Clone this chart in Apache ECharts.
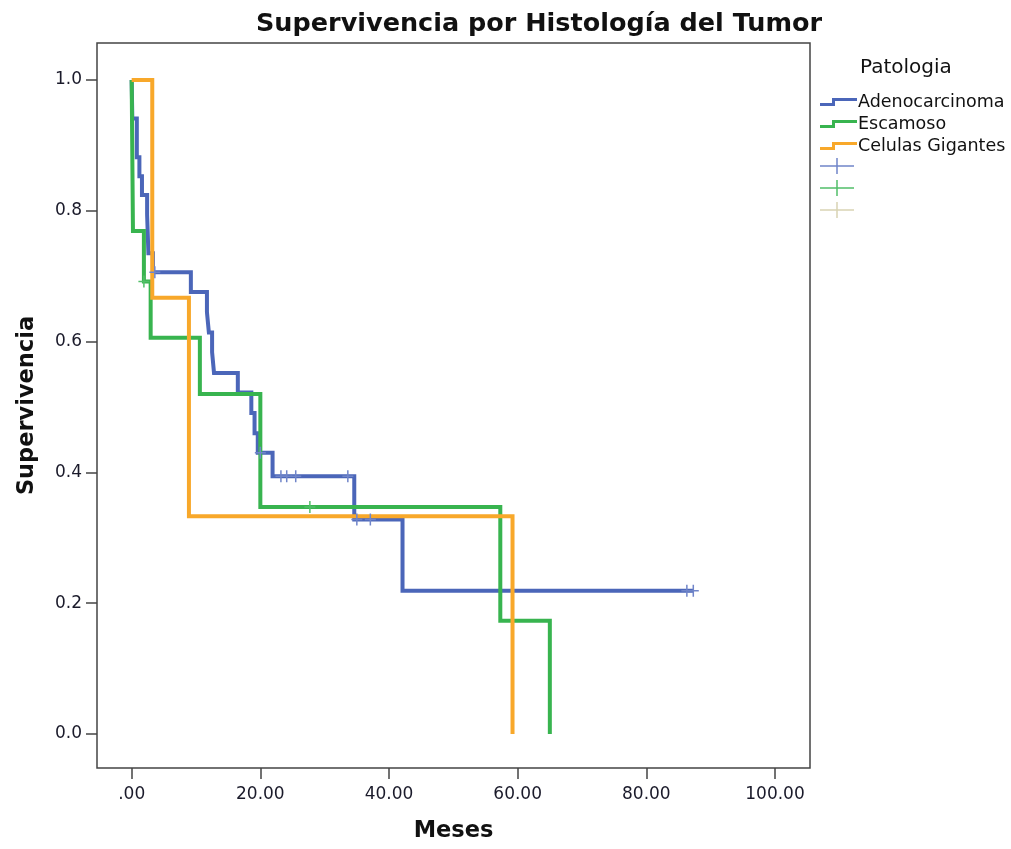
<!DOCTYPE html>
<html>
<head>
<meta charset="utf-8">
<script src="https://cdn.jsdelivr.net/npm/echarts@6/dist/echarts.min.js"></script>
<style>
  html, body { margin: 0; padding: 0; background: #ffffff; }
  #chart { width: 1011px; height: 849px; }
</style>
</head>
<body>
<div id="chart"></div>
<script>
// ---- Data ----
const seriesNames = ['Adenocarcinoma', 'Escamoso', 'Celulas Gigantes'];

const adenoTime = [0, 0.1, 0.8, 1.2, 1.6, 2.4, 2.6, 3.3, 9.2, 11.7, 12.0, 12.5, 12.8, 16.5, 18.6, 19.1, 19.6, 21.9, 34.6, 42.1, 87.3];
const adenoSurv = [1.0, 0.941, 0.882, 0.853, 0.824, 0.794, 0.735, 0.706, 0.676, 0.645, 0.614, 0.584, 0.552, 0.522, 0.491, 0.460, 0.430, 0.394, 0.328, 0.219, 0.219];
const adenoCensTime = [3.6, 20.0, 23.2, 24.1, 25.5, 33.6, 35.0, 37.1, 86.3, 87.3];
const adenoCensSurv = [0.706, 0.430, 0.394, 0.394, 0.394, 0.394, 0.328, 0.328, 0.219, 0.219];

const escamTime = [0, 0.2, 1.9, 2.95, 10.6, 20.0, 57.3, 65.0];
const escamSurv = [1.0, 0.769, 0.692, 0.606, 0.520, 0.347, 0.173, 0.0];
const escamCensTime = [1.9, 27.7];
const escamCensSurv = [0.692, 0.347];

const celTime = [0, 3.2, 8.9, 59.2];
const celSurv = [1.0, 0.667, 0.333, 0.0];
const celCensTime = [];
const celCensSurv = [];

const xTickValues = [0, 20, 40, 60, 80, 100];
const xTickLabels = ['.00', '20.00', '40.00', '60.00', '80.00', '100.00'];
const yTickValues = [0, 0.2, 0.4, 0.6, 0.8, 1.0];
const yTickLabels = ['0.0', '0.2', '0.4', '0.6', '0.8', '1.0'];

// ---- helpers ----
function pairs(t, s) { return t.map((v, i) => [v, s[i]]); }

const lineColors = ['#4b66b9', '#38b44f', '#f8a82a'];
const censColors = ['#7085c9', '#52bf69', '#d9d4b4'];
const censNames = ['Adenocarcinoma cens.', 'Escamoso cens.', 'Celulas Gigantes cens.'];

const stepIcon = 'path://M0,5H12V0H37V3H15V8H0Z';
const crossIcon = 'path://M0,7.25H34V8.75H0Z M16.25,0H17.75V16H16.25Z';
const crossMark = 'path://M0,5.25H11V6.75H0Z M4.75,0H6.25V12H4.75Z';

const lineData = [pairs(adenoTime, adenoSurv), pairs(escamTime, escamSurv), pairs(celTime, celSurv)];
const censData = [pairs(adenoCensTime, adenoCensSurv), pairs(escamCensTime, escamCensSurv), pairs(celCensTime, celCensSurv)];

const series = [];
for (let i = 0; i < 3; i++) {
  series.push({
    name: seriesNames[i],
    type: 'line',
    step: 'end',
    symbol: 'none',
    data: lineData[i],
    lineStyle: { color: lineColors[i], width: 4, join: 'miter', cap: 'butt' },
    itemStyle: { color: lineColors[i] },
    z: 2 + i,
    animation: false
  });
}
for (let i = 0; i < 3; i++) {
  series.push({
    name: censNames[i],
    type: 'scatter',
    symbol: crossMark,
    symbolSize: [11, 12],
    data: censData[i],
    itemStyle: { color: censColors[i], opacity: 1 },
    z: 10,
    animation: false
  });
}

const chart = echarts.init(document.getElementById('chart'), null, { renderer: 'canvas' });
chart.setOption({
  backgroundColor: '#ffffff',
  animation: false,
  title: {
    text: 'Supervivencia por Histología del Tumor',
    left: 251,
    top: 6,
    textStyle: { fontFamily: 'DejaVu Sans', fontWeight: 'bold', fontSize: 25.5, color: '#111111' }
  },
  grid: {
    left: 97, top: 43, width: 713, height: 725,
    outerBoundsMode: 'none',
    containLabel: false,
    show: true, borderColor: '#444444', borderWidth: 1.5, backgroundColor: 'transparent'
  },
  legend: [
    {
      orient: 'vertical',
      left: 815, top: 88,
      itemWidth: 37, itemHeight: 8, itemGap: 4,
      icon: stepIcon,
      selectedMode: false,
      data: seriesNames,
      textStyle: { fontFamily: 'DejaVu Sans', fontSize: 17.5, color: '#111111', padding: [0, 0, 0, -4] }
    },
    {
      orient: 'vertical',
      left: 815, top: 153,
      itemWidth: 34, itemHeight: 16, itemGap: 6,
      icon: crossIcon,
      selectedMode: false,
      data: censNames,
      formatter: function () { return ''; },
      textStyle: { fontSize: 1 }
    }
  ],
  graphic: [
    {
      type: 'text',
      left: 860, top: 58,
      style: { text: 'Patologia', font: '20px "DejaVu Sans"', fill: '#111111' }
    }
  ],
  xAxis: {
    type: 'value',
    min: -5.39, max: 105.44,
    name: 'Meses',
    nameLocation: 'middle',
    nameGap: 52,
    nameTextStyle: { fontFamily: 'DejaVu Sans', fontWeight: 'bold', fontSize: 22.5, color: '#111111' },
    axisLine: { show: false, onZero: false },
    splitLine: { show: false },
    axisTick: { show: true, inside: false, length: 11, customValues: xTickValues, lineStyle: { color: '#444444', width: 1.5 } },
    axisLabel: {
      customValues: xTickValues,
      margin: 18,
      fontFamily: 'DejaVu Sans', fontSize: 17, color: '#1a1a2a',
      formatter: function (v) { const k = xTickValues.indexOf(v); return k >= 0 ? xTickLabels[k] : ''; }
    }
  },
  yAxis: {
    type: 'value',
    min: -0.052, max: 1.0566,
    name: 'Supervivencia',
    nameLocation: 'middle',
    nameGap: 58,
    nameTextStyle: { fontFamily: 'DejaVu Sans', fontWeight: 'bold', fontSize: 22.5, color: '#111111' },
    axisLine: { show: false, onZero: false },
    splitLine: { show: false },
    axisTick: { show: true, inside: false, length: 11, customValues: yTickValues, lineStyle: { color: '#444444', width: 1.5 } },
    axisLabel: {
      customValues: yTickValues,
      margin: 15,
      fontFamily: 'DejaVu Sans', fontSize: 17, color: '#1a1a2a',
      formatter: function (v) {
        let k = -1;
        yTickValues.forEach((t, i) => { if (Math.abs(t - v) < 1e-6) k = i; });
        return k >= 0 ? yTickLabels[k] : '';
      }
    }
  },
  series: series
});
</script>
</body>
</html>
